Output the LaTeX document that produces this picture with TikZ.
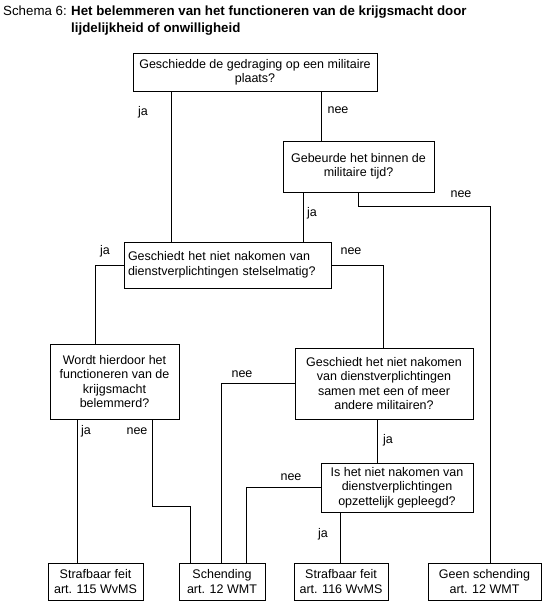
\documentclass[tikz,border=0pt]{standalone}
\usepackage{fontspec}
\setmainfont{Liberation Sans}
\begin{document}
\begin{tikzpicture}[x=1pt,y=-1pt,
  every node/.style={font=\fontsize{12.5}{14.5}\selectfont},
  box/.style={draw, line width=1pt, inner sep=0pt, align=center},
  lbl/.style={inner sep=0pt},
  ttl/.style={anchor=base west, inner sep=0pt, font=\fontsize{13.3}{16}\selectfont},
  conn/.style={line width=1pt}]
\useasboundingbox (0,0) rectangle (542,602);
% title
\node[ttl] (t1) at (3,16) {Schema 6:};
\node[ttl, font=\fontsize{13.3}{16}\selectfont\bfseries] (t2) at (71,16) {Het belemmeren van het functioneren van de krijgsmacht door};
\node[ttl, font=\fontsize{13.3}{16}\selectfont\bfseries] (t3) at (71,33) {lijdelijkheid of onwilligheid};
% question boxes
\node[box, minimum width=244pt, minimum height=37pt] (b1) at (255,72.5) {Geschiedde de gedraging op een militaire\\plaats?};
\node[box, minimum width=151pt, minimum height=51pt] (b2) at (358.5,166.5) {Gebeurde het binnen de\\militaire tijd?};
\node[box, align=left, text width=199pt, inner xsep=4pt, minimum width=207pt, minimum height=46pt] (b3) at (227.5,265) {Geschiedt het niet nakomen van\\dienstverplichtingen stelselmatig?};
\node[box, minimum width=129pt, minimum height=75pt] (b4) at (114.5,381.5) {Wordt hierdoor het\\functioneren van de\\krijgsmacht\\belemmerd?};
\node[box, minimum width=178pt, minimum height=71pt] (b5) at (384,383.5) {Geschiedt het niet nakomen\\van dienstverplichtingen\\samen met een of meer\\andere militairen?};
\node[box, minimum width=152pt, minimum height=49pt] (b6) at (397,487.5) {Is het niet nakomen van\\dienstverplichtingen\\opzettelijk gepleegd?};
% end boxes
\node[box, minimum width=95pt, minimum height=37pt] (e1) at (95.5,581.5) {Strafbaar feit\\art. 115 WvMS};
\node[box, minimum width=86pt, minimum height=37pt] (e2) at (222,581.5) {Schending\\art. 12 WMT};
\node[box, minimum width=94pt, minimum height=37pt] (e3) at (341,581.5) {Strafbaar feit\\art. 116 WvMS};
\node[box, minimum width=113pt, minimum height=37pt] (e4) at (484.5,581.5) {Geen schending\\art. 12 WMT};
% connectors
\draw[conn] (171,0 |- b1.south) -- (171,0 |- b3.north);
\draw[conn] (321,0 |- b1.south) -- (321,0 |- b2.north);
\draw[conn] (303,0 |- b2.south) -- (303,0 |- b3.north);
\draw[conn] (358,0 |- b2.south) -- (358,206) -| (490,0 |- e4.north);
\draw[conn] (b3.west) -| (95,0 |- b4.north);
\draw[conn] (b3.east) -| (383,0 |- b5.north);
\draw[conn] (77,0 |- b4.south) -- (77,0 |- e1.north);
\draw[conn] (152,0 |- b4.south) -- (152,506) -| (190,0 |- e2.north);
\draw[conn] (b5.west) -| (221,0 |- e2.north);
\draw[conn] (377,0 |- b5.south) -- (377,0 |- b6.north);
\draw[conn] (b6.west) -| (246,0 |- e2.north);
\draw[conn] (340,0 |- b6.south) -- (340,0 |- e3.north);
% labels
\node[lbl] (l1) at (143,112) {ja};
\node[lbl] (l2) at (338,110) {nee};
\node[lbl] (l3) at (312,213) {ja};
\node[lbl] (l4) at (461,194) {nee};
\node[lbl] (l5) at (105,251) {ja};
\node[lbl] (l6) at (351,251) {nee};
\node[lbl] (l7) at (242,374) {nee};
\node[lbl] (l8) at (86,431) {ja};
\node[lbl] (l9) at (137,431) {nee};
\node[lbl] (l10) at (388,440) {ja};
\node[lbl] (l11) at (291,477) {nee};
\node[lbl] (l12) at (323,534) {ja};
\end{tikzpicture}
\end{document}
